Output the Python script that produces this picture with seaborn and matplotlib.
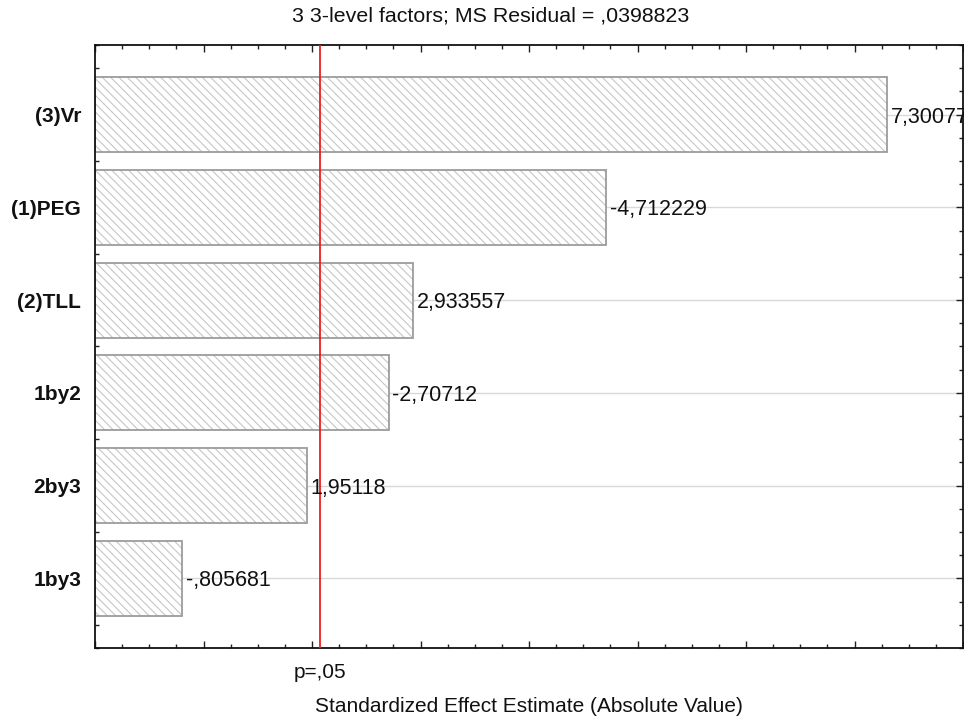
import matplotlib
matplotlib.use('Agg')
import matplotlib.pyplot as plt
from matplotlib.ticker import MultipleLocator, NullFormatter
import seaborn as sns
import pandas as pd

# ---- data ----
factors = ["(3)Vr", "(1)PEG", "(2)TLL", "1by2", "2by3", "1by3"]
effects = [7.30077, -4.712229, 2.933557, -2.70712, 1.95118, -0.805681]
effect_labels = ["7,30077", "-4,712229", "2,933557", "-2,70712", "1,95118", "-,805681"]
p_crit = 2.0739
title = "3 3-level factors; MS Residual = ,0398823"
xlabel = "Standardized Effect Estimate (Absolute Value)"
p_label = "p=,05"
x_max = 8

sns.set_style('ticks')
plt.rcParams['font.family'] = ['Liberation Sans', 'DejaVu Sans']
plt.rcParams['hatch.linewidth'] = 0.8

df = pd.DataFrame({'factor': factors, 'abs_effect': [abs(v) for v in effects]})

W, H = 964, 720
fig = plt.figure(figsize=(W / 100, H / 100), dpi=100)
ax = fig.add_axes([95 / W, (H - 648) / H, (963 - 95) / W, (648 - 45) / H])

# hatched fill
sns.barplot(data=df, y='factor', x='abs_effect', orient='h', color='white',
            edgecolor='#c6c6c6', linewidth=0, hatch='\\\\\\\\', width=0.81,
            ax=ax, zorder=2)
# outline
sns.barplot(data=df, y='factor', x='abs_effect', orient='h', fill=False,
            color='#9c9c9c', linewidth=1.3, width=0.81, ax=ax, zorder=2.5)

ax.set_xlim(0, x_max)
ax.set_ylim(len(factors) - 0.25, -0.75)

ax.yaxis.grid(True, color='#d9d9d9', lw=1.0)
ax.xaxis.grid(False)
ax.set_axisbelow(True)

ax.axvline(p_crit, color='#ee1c1c', lw=1.3, zorder=3)

ax.xaxis.set_major_locator(MultipleLocator(1))
ax.xaxis.set_minor_locator(MultipleLocator(0.25))
ax.xaxis.set_major_formatter(NullFormatter())
ax.yaxis.set_minor_locator(MultipleLocator(0.25))
ax.tick_params(which='both', direction='in', top=True, right=True,
               color='#222222', width=1.0)
ax.tick_params(which='major', length=5)
ax.tick_params(which='minor', length=3)
ax.tick_params(axis='y', which='major', pad=10)

for lbl in ax.get_yticklabels():
    lbl.set_fontweight('bold')
    lbl.set_fontsize(15)
    lbl.set_color('#111111')

for sp in ax.spines.values():
    sp.set_color('#111111')
    sp.set_linewidth(1.3)

for i, (v, t) in enumerate(zip(df['abs_effect'], effect_labels)):
    ax.text(v + 0.03, i, t, ha='left', va='center_baseline', fontsize=15.5,
            color='#111111', zorder=4, clip_on=False)

ax.text(p_crit, (648 - 673) / 603, p_label, transform=ax.get_xaxis_transform(),
        ha='center', va='center', fontsize=15, color='#111111')

ax.set_ylabel('')
ax.set_xlabel(xlabel, fontsize=15, va='center', color='#111111')
ax.xaxis.set_label_coords(0.5, (648 - 707) / 603)

fig.text(491 / W, 1 - 16.5 / H, title, ha='center', va='center', fontsize=15.4,
         color='#111111')

fig.savefig('out.png', dpi=100)
